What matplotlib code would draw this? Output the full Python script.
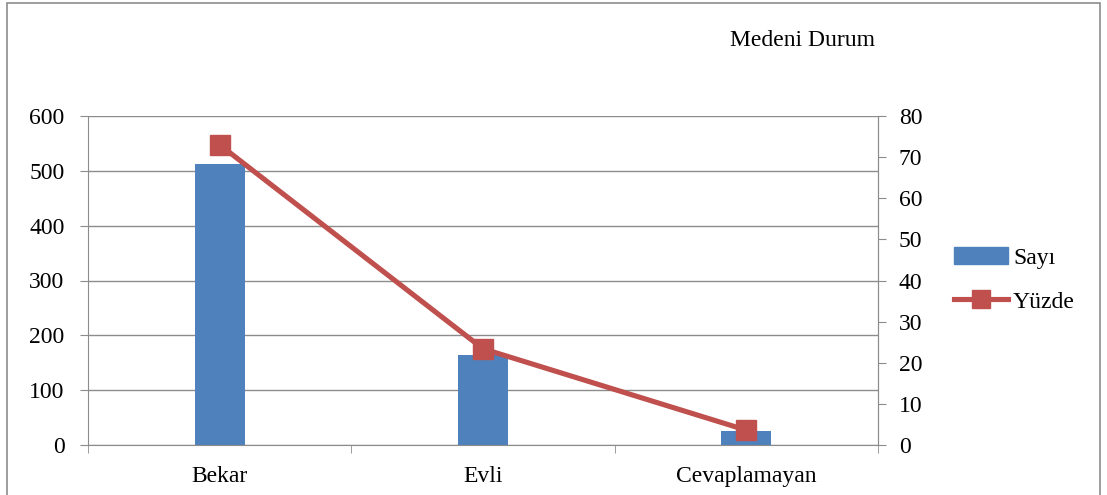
import matplotlib.pyplot as plt
from matplotlib.patches import Rectangle
from matplotlib.lines import Line2D
from matplotlib.patches import Patch
import numpy as np

categories = ["Bekar", "Evli", "Cevaplamayan"]
sayi = [512, 164, 25]
yuzde = [73.0, 23.4, 3.6]
left_ticks = [0, 100, 200, 300, 400, 500, 600]
right_ticks = [0, 10, 20, 30, 40, 50, 60, 70, 80]

bar_color = "#4F81BD"
line_color = "#C0504D"
axis_gray = "#8C8C8C"
fs = 17

plt.rcParams["font.family"] = ["Liberation Serif", "DejaVu Serif"]

W, H = 1107, 495
fig = plt.figure(figsize=(W / 100, H / 100), dpi=100)

# outer chart frame
fig.patches.append(Rectangle((7 / W, -0.05), (1100 - 7) / W, 1.05 - 3 / H,
                             transform=fig.transFigure, fill=False,
                             edgecolor=axis_gray, linewidth=1.2))

ax = fig.add_axes([88 / W, 1 - 445 / H, (878 - 88) / W, (445 - 116) / H])
x = np.arange(len(categories))
ax.bar(x, sayi, width=0.19, color=bar_color, zorder=2)
ax.set_xlim(-0.5, len(categories) - 0.5)
ax.set_ylim(0, 600)
ax.set_yticks(left_ticks)
ax.yaxis.grid(True, color=axis_gray, linewidth=1.0)
ax.set_axisbelow(True)
ax.set_xticks(x)
ax.set_xticklabels(categories)
ax.set_xticks(np.arange(-0.5, len(categories)), minor=True)
ax.tick_params(axis="x", which="major", length=0, labelsize=fs, pad=15)
ax.tick_params(axis="x", which="minor", length=6, color=axis_gray, direction="out")
ax.tick_params(axis="y", labelsize=fs, length=6, color=axis_gray, pad=11)
ax.spines["top"].set_visible(False)
for s in ["left", "right", "bottom"]:
    ax.spines[s].set_color(axis_gray)

ax2 = ax.twinx()
ax2.plot(x, yuzde, color=line_color, linewidth=3.7, marker="s",
         markersize=14, markerfacecolor=line_color, markeredgecolor=line_color,
         zorder=3)
ax2.set_ylim(0, 80)
ax2.set_yticks(right_ticks)
ax2.tick_params(axis="y", labelsize=fs, length=6, color=axis_gray, pad=9)
for s in ["top", "left", "bottom"]:
    ax2.spines[s].set_visible(False)
ax2.spines["right"].set_color(axis_gray)

fig.text(802 / W, 1 - 41 / H, "Medeni Durum", fontsize=fs,
         ha="center", va="center")

handles = [Patch(facecolor=bar_color, edgecolor=bar_color),
           Line2D([0], [0], color=line_color, linewidth=3.7, marker="s",
                  markersize=12.5)]
fig.legend(handles, ["Sayı", "Yüzde"], loc="center left",
           bbox_to_anchor=(954 / W, 1 - 280 / H), frameon=False,
           fontsize=fs, handlelength=2.3, handletextpad=0.2,
           labelspacing=0.95, borderaxespad=0, borderpad=0)

fig.savefig("out.png", dpi=100)
